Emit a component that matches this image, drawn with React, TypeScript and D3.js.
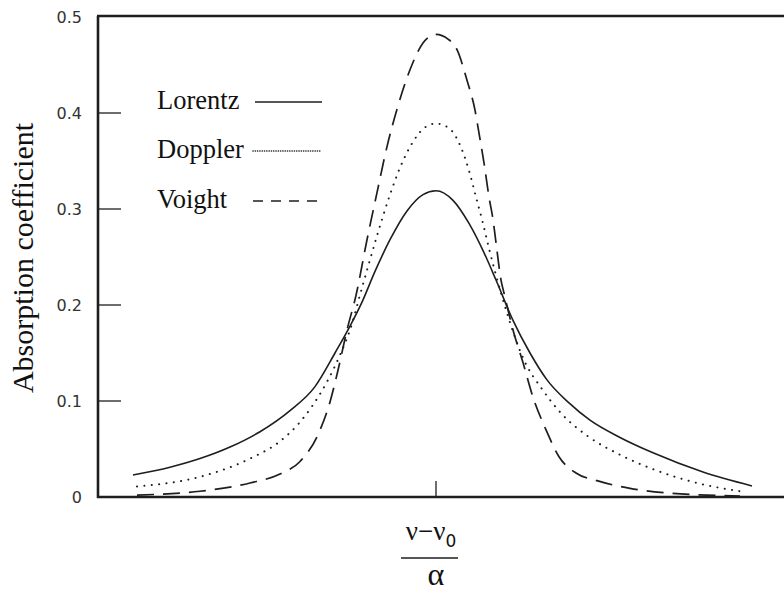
import React from "react";
import * as d3 from "d3";

// x positions in units of (ν−ν0)/α (arbitrary scale), y = absorption coefficient
const lorentzX = [-3.03, -2.66, -2.36, -2.06, -1.76, -1.46, -1.21, -1.01, -0.86, -0.74, -0.61, -0.46, -0.29, -0.13, 0, 0.17, 0.33, 0.5, 0.6, 0.77, 0.94, 1.11, 1.33, 1.54, 1.84, 2.17, 2.67, 3.16];
const lorentzY = [0.023, 0.031, 0.04, 0.052, 0.068, 0.09, 0.115, 0.15, 0.178, 0.203, 0.235, 0.268, 0.298, 0.315, 0.319, 0.309, 0.285, 0.25, 0.226, 0.184, 0.15, 0.122, 0.098, 0.08, 0.062, 0.046, 0.026, 0.0115];

const dopplerX = [-2.99, -2.36, -1.86, -1.56, -1.36, -1.23, -1.09, -0.96, -0.86, -0.74, -0.59, -0.46, -0.36, -0.23, -0.11, 0, 0.12, 0.23, 0.33, 0.4, 0.47, 0.53, 0.6, 0.7, 0.87, 1.07, 1.24, 1.53, 1.84, 2.17, 2.61, 3.04];
const dopplerY = [0.011, 0.021, 0.04, 0.058, 0.078, 0.096, 0.12, 0.148, 0.174, 0.218, 0.272, 0.315, 0.343, 0.37, 0.385, 0.389, 0.385, 0.369, 0.34, 0.3125, 0.285, 0.259, 0.231, 0.195, 0.145, 0.111, 0.0885, 0.0625, 0.044, 0.029, 0.0146, 0.006];

const voightX = [-2.99, -2.36, -1.86, -1.56, -1.36, -1.18, -1.06, -0.98, -0.89, -0.8, -0.69, -0.59, -0.49, -0.39, -0.26, -0.13, 0, 0.12, 0.21, 0.31, 0.39, 0.43, 0.48, 0.53, 0.57, 0.6, 0.65, 0.68, 0.77, 0.87, 0.97, 1.1, 1.23, 1.4, 1.61, 1.94, 2.34, 3.04];
const voightY = [0.002, 0.006, 0.0146, 0.024, 0.037, 0.065, 0.099, 0.132, 0.174, 0.21, 0.268, 0.317, 0.365, 0.404, 0.445, 0.473, 0.482, 0.477, 0.466, 0.434, 0.403, 0.379, 0.348, 0.3125, 0.289, 0.265, 0.226, 0.2125, 0.174, 0.14, 0.104, 0.07, 0.042, 0.025, 0.017, 0.009, 0.004, 0.001];

const yTicks = [0, 0.1, 0.2, 0.3, 0.4, 0.5];
const yTickLabels = ["0", "0.1", "0.2", "0.3", "0.4", "0.5"];
const legendNames = ["Lorentz", "Doppler", "Voight"];

const W = 784;
const H = 593;
const left = 98;
const right = 784;
const top = 16;
const bottom = 497;
const serif = "'Liberation Serif', 'Times New Roman', Times, serif";
const sans = "'DejaVu Sans', Verdana, sans-serif";

export default function App() {
  const x = d3.scaleLinear().domain([-3.38, 3.48]).range([left, right]);
  const y = d3.scaleLinear().domain([0, 0.5]).range([bottom, top + 1]);
  const line = d3
    .line<[number, number]>()
    .x((d) => x(d[0]))
    .y((d) => y(d[1]))
    .curve(d3.curveMonotoneX);
  const zip = (xs: number[], ys: number[]) => xs.map((v, i) => [v, ys[i]] as [number, number]);

  const series = [
    { name: legendNames[0], d: line(zip(lorentzX, lorentzY)), dash: undefined, w: 1.6, cap: "butt" },
    { name: legendNames[1], d: line(zip(dopplerX, dopplerY)), dash: "0.1,7.3", w: 2, cap: "round" },
    { name: legendNames[2], d: line(zip(voightX, voightY)), dash: "17,9", w: 1.7, cap: "butt" },
  ];
  const legendDash = [undefined, "0.1,2.2", "10,8"];
  const legendY = [102, 151, 201];
  const ink = "#1e1e1e";

  return (
    <svg width={W} height={H} style={{ display: "block", position: "absolute", left: 0, top: 0 }}>
      <rect width={W} height={H} fill="#fff" />
      {/* axes */}
      <line x1={left} x2={left} y1={top} y2={bottom + 1} stroke={ink} strokeWidth={2.6} />
      <line x1={left - 1} x2={right} y1={top} y2={top} stroke={ink} strokeWidth={2.6} />
      <line x1={left - 1} x2={right} y1={bottom} y2={bottom} stroke={ink} strokeWidth={2.6} />
      {yTicks.map((t, i) => (
        <g key={t}>
          {t > 0 && t < 0.5 && (
            <line x1={left} x2={left + 23} y1={y(t)} y2={y(t)} stroke={ink} strokeWidth={1.3} />
          )}
          <text
            x={82}
            y={y(t)}
            textAnchor="end"
            dominantBaseline="central"
            style={{ fontFamily: sans, fontSize: 16 }}
            fill="#333"
          >
            {yTickLabels[i]}
          </text>
        </g>
      ))}
      <line x1={x(0)} x2={x(0)} y1={bottom - 16} y2={bottom} stroke={ink} strokeWidth={1.3} />
      {/* curves */}
      {series.map((s) => (
        <path
          key={s.name}
          d={s.d || ""}
          fill="none"
          stroke={ink}
          strokeWidth={s.w}
          strokeDasharray={s.dash}
          strokeLinecap={s.cap as any}
        />
      ))}
      {/* legend */}
      {legendNames.map((n, i) => (
        <g key={n}>
          <text x={157} y={legendY[i] + 7} style={{ fontFamily: serif, fontSize: 26.5 }} fill="#111">
            {n}
          </text>
          <line
            x1={i === 0 ? 255 : 253}
            x2={322}
            y1={legendY[i]}
            y2={legendY[i]}
            stroke={ink}
            strokeWidth={i === 1 ? 1.6 : 1.5}
            strokeDasharray={legendDash[i]}
            strokeLinecap={i === 1 ? "round" : "butt"}
          />
        </g>
      ))}
      {/* y title */}
      <text
        transform={`translate(33,258) rotate(-90)`}
        textAnchor="middle"
        style={{ fontFamily: serif, fontSize: 30 }}
        fill="#111"
      >
        Absorption coefficient
      </text>
      {/* x title as fraction */}
      <text x={x(0) - 5} y={540} textAnchor="middle" style={{ fontFamily: serif, fontSize: 27 }} fill="#111">
        ν−ν
        <tspan style={{ fontFamily: sans, fontSize: 17 }} dy={7}>0</tspan>
      </text>
      <line x1={401} x2={458} y1={558} y2={558} stroke={ink} strokeWidth={1.3} />
      <text x={x(0)} y={585} textAnchor="middle" style={{ fontFamily: serif, fontSize: 32 }} fill="#111">
        α
      </text>
    </svg>
  );
}
